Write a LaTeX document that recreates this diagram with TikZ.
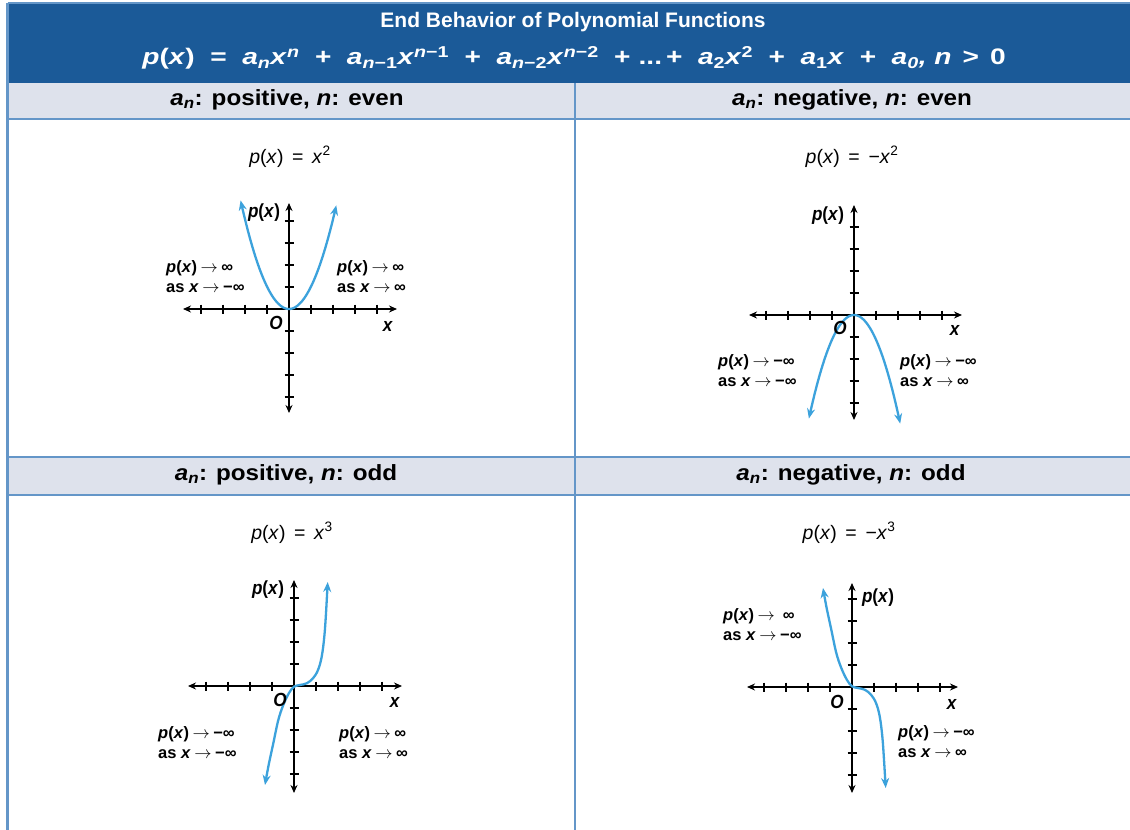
\documentclass[tikz,border=0pt]{standalone}
\usepackage{fontspec}
\setmainfont{Liberation Sans}
\newfontfamily\condfont[FakeStretch=0.9]{Liberation Sans}
\newfontfamily\widefont[FakeStretch=1.1]{Liberation Sans}
\newfontfamily\xwidefont[FakeStretch=1.25]{Liberation Sans}
\usetikzlibrary{arrows.meta}
\definecolor{titleblue}{RGB}{27,90,152}
\definecolor{bandgray}{RGB}{222,226,236}
\definecolor{lineblue}{RGB}{100,150,200}
\definecolor{curveblue}{RGB}{60,162,220}
\newcommand\iv[1]{\textit{#1}}
\newcommand\pofx{\iv{p}(\iv{x})}
\newcommand\arr{\hspace{3.5pt}$\rightarrow$\hspace{3.5pt}}
\newcommand\gap{\hspace{15.5pt}}
\newcommand\polyaxes[6]{%
\begin{scope}[shift={(#1,#2)}]
\draw[axisline] (-#3,0) -- (#4,0);
\draw[axisline] (0,-#5) -- (0,#6);
\foreach \i in {-4,-3,-2,-1,1,2,3,4} {\draw[tickline] (\i*22,-4.5) -- (\i*22,4.5); \draw[tickline] (-4.5,\i*22) -- (4.5,\i*22);}
\end{scope}}
\begin{document}
\begin{tikzpicture}[x=1pt,y=-1pt,
  axisline/.style={line width=1.8pt, {Stealth[length=8pt,width=7pt]}-{Stealth[length=8pt,width=7pt]}},
  tickline/.style={line width=1.2pt},
  curve/.style={line width=2.3pt, color=curveblue, {Stealth[length=10pt,width=8pt]}-{Stealth[length=10pt,width=8pt]}},
  titletext/.style={text=white, font=\bfseries\fontsize{21}{24}\selectfont, inner sep=0pt},
  hdr/.style={font=\widefont\bfseries\fontsize{22}{26}\selectfont, inner sep=0pt},
  fml/.style={font=\fontsize{19.5}{22}\selectfont, inner sep=0pt},
  lab/.style={font=\bfseries\fontsize{16.5}{20}\selectfont, align=left, inner sep=0pt, anchor=west},
  axlab/.style={font=\condfont\bfseries\fontsize{19}{21}\selectfont, inner sep=0pt},
  border/.style={lineblue, line width=2.2pt}
]
\useasboundingbox (0,0) rectangle (1130,830);
\fill[white] (0,0) rectangle (1130,830);
\fill[titleblue] (7.5,4) rectangle (1130,83);
\fill[bandgray] (7.5,83) rectangle (1130,119);
\fill[bandgray] (7.5,457) rectangle (1130,495);
\draw[border] (7.5,3) -- (1130,3);
\draw[border] (7.5,3) -- (7.5,830);
\draw[border] (575,83) -- (575,830);
\draw[border] (7.5,119) -- (1130,119);
\draw[border] (7.5,457) -- (1130,457);
\draw[border] (7.5,495) -- (1130,495);

% title
\node[titletext] (t1) at (573,22) {End Behavior of Polynomial Functions};
\node[titletext, font=\xwidefont\bfseries\fontsize{22.5}{26}\selectfont] (t2) at (574,58)
 {\pofx\gap=\gap\iv{a}\textsubscript{\iv{n}}\iv{x}\textsuperscript{\iv{n}}\gap+\gap\iv{a}\textsubscript{\iv{n}−1}\iv{x}\textsuperscript{\iv{n}−1}\gap+\gap\iv{a}\textsubscript{\iv{n}−2}\iv{x}\textsuperscript{\iv{n}−2}\gap+\hspace{8pt}...\hspace{4pt}+\gap\iv{a}\textsubscript{2}\iv{x}\textsuperscript{2}\gap+\gap\iv{a}\textsubscript{1}\iv{x}\gap+\gap\iv{a}\textsubscript{\iv{0}}\iv{,} \iv{n}\hspace{11pt}>\hspace{11pt}0};

% headers
\node[hdr] (h1) at (287,100) {\iv{a}\textsubscript{\iv{n}}: positive, \iv{n}: even};
\node[hdr] (h2) at (852,100) {\iv{a}\textsubscript{\iv{n}}: negative, \iv{n}: even};
\node[hdr] (h3) at (286,475) {\iv{a}\textsubscript{\iv{n}}: positive, \iv{n}: odd};
\node[hdr] (h4) at (851,475) {\iv{a}\textsubscript{\iv{n}}: negative, \iv{n}: odd};

% formulas
\node[fml] (f1) at (290,157) {\pofx\ \,=\ \,\iv{x}\textsuperscript{2}};
\node[fml] (f2) at (852,157) {\pofx\ \,=\ \,−\iv{x}\textsuperscript{2}};
\node[fml] (f3) at (292,533) {\pofx\ \,=\ \,\iv{x}\textsuperscript{3}};
\node[fml] (f4) at (849,533) {\pofx\ \,=\ \,−\iv{x}\textsuperscript{3}};

% panel 1
\polyaxes{289}{309}{106}{108}{106}{104}
\begin{scope}[shift={(289,309)}]
\draw[curve] plot[domain=-2.2:2.15, samples=60, smooth] ({\x*22},{-1.02*\x*\x*22});
\end{scope}
\node[axlab] (p1y) at (264,213) {\pofx};
\node[axlab] (p1o) at (276,323) {\iv{O}};
\node[axlab] (p1x) at (388,326) {\iv{x}};
\node[lab] (p1l) at (166,277) {\pofx\arr∞\\as \iv{x}\arr−∞};
\node[lab] (p1r) at (337,277) {\pofx\arr∞\\as \iv{x}\arr∞};

% panel 2
\polyaxes{854}{315}{105}{108}{110}{105}
\begin{scope}[shift={(854,315)}]
\draw[curve] plot[domain=-2.05:2.1, samples=60, smooth] ({\x*22},{1.12*\x*\x*22});
\end{scope}
\node[axlab] (p2y) at (828,216) {\pofx};
\node[axlab] (p2o) at (840,328) {\iv{O}};
\node[axlab] (p2x) at (955,330) {\iv{x}};
\node[lab] (p2l) at (718,371) {\pofx\arr−∞\\as \iv{x}\arr−∞};
\node[lab] (p2r) at (900,371) {\pofx\arr−∞\\as \iv{x}\arr∞};

% panel 3
\polyaxes{294}{686}{106}{108}{106}{107}
\begin{scope}[shift={(294,686)}]
\draw[curve] plot[smooth, tension=0.6] coordinates {(-29,99) (-25.7,80.7) (-20.7,57.3) (-15.7,34) (-10.7,19) (-5,7) (0,0.7) (6,-1) (12.7,-2.7) (19,-7.7) (24,-16) (27.7,-29.3) (30.3,-49.3) (32,-72.7) (33.7,-104)};
\end{scope}
\node[axlab] (p3y) at (268,590) {\pofx};
\node[axlab] (p3o) at (280,700) {\iv{O}};
\node[axlab] (p3x) at (395,702) {\iv{x}};
\node[lab] (p3l) at (158,743) {\pofx\arr−∞\\as \iv{x}\arr−∞};
\node[lab] (p3r) at (339,743) {\pofx\arr∞\\as \iv{x}\arr∞};

% panel 4
\polyaxes{852}{687}{105}{106}{104}{106}
\begin{scope}[shift={(852,687)}, yscale=-1]
\draw[curve] plot[smooth, tension=0.6] coordinates {(-29,99) (-25.7,80.7) (-20.7,57.3) (-15.7,34) (-10.7,19) (-5,7) (0,0.7) (6,-1) (12.7,-2.7) (19,-7.7) (24,-16) (27.7,-29.3) (30.3,-49.3) (32,-72.7) (33.7,-101)};
\end{scope}
\node[axlab] (p4y) at (878,598) {\pofx};
\node[axlab] (p4o) at (837,702) {\iv{O}};
\node[axlab] (p4x) at (952,704) {\iv{x}};
\node[lab] (p4l) at (723,625) {\pofx\arr\ ∞\\as \iv{x}\arr−∞};
\node[lab] (p4r) at (898,742) {\pofx\arr−∞\\as \iv{x}\arr∞};
\end{tikzpicture}
\end{document}
